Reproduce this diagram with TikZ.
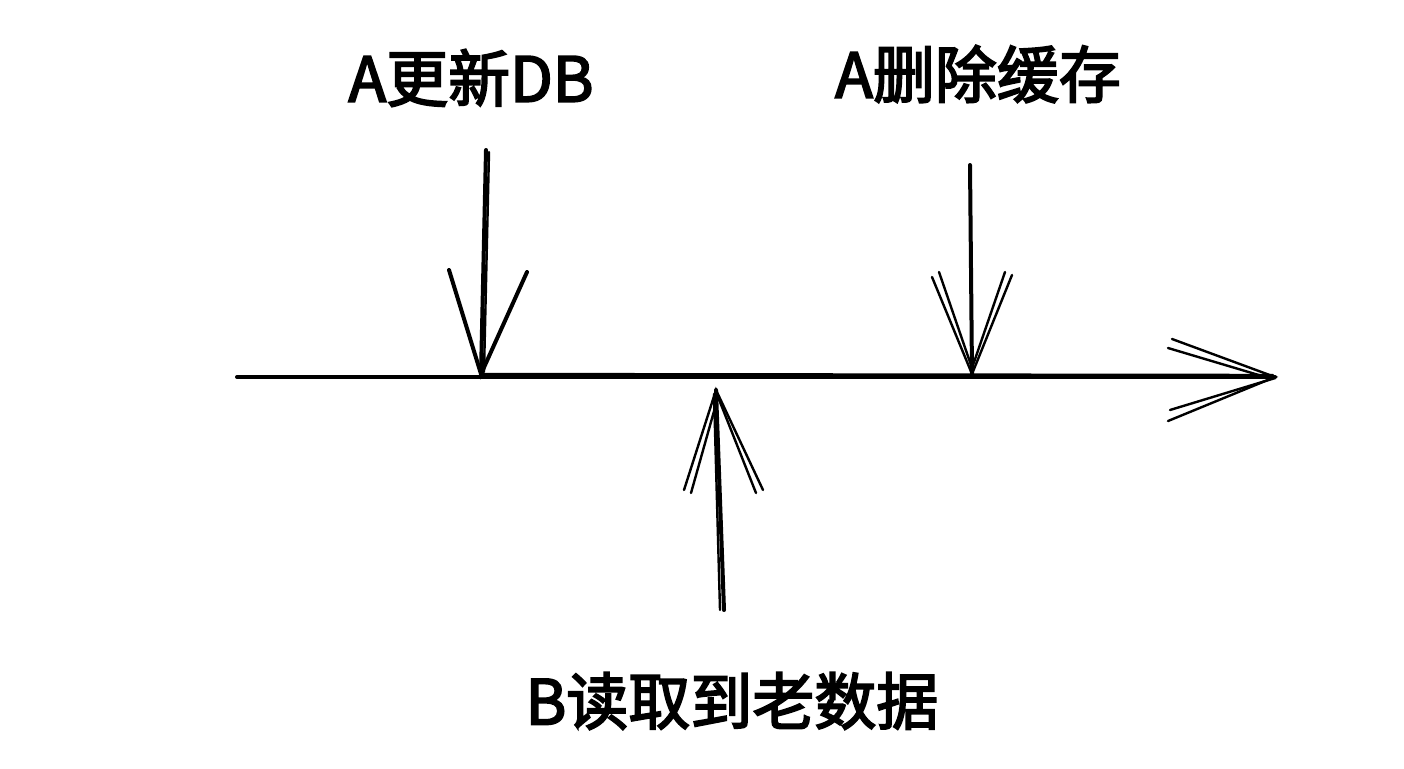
\documentclass[tikz,border=0pt]{standalone}
\usepackage{fontspec}
\newfontfamily\cjk[FakeBold=3]{Noto Sans CJK SC}
\begin{document}
\begin{tikzpicture}[x=1pt,y=-1pt,
  ink/.style={line width=4pt,line cap=round,black},
  thin ink/.style={line width=2.4pt,line cap=round,black},
  lbl/.style={font=\cjk\fontsize{62}{66}\selectfont,inner sep=0pt}]
\useasboundingbox (0,0) rectangle (1404,768);
% labels
\node[lbl] (t1) at (471,78) {A更新DB};
\node[lbl] (t2) at (978,74) {A删除缓存};
\node[lbl] (t3) at (732,701) {B读取到老数据};
% time axis
\coordinate (s) at (237,377);
\coordinate (e) at (1275,377);
\draw[ink] (s) -- (e);
\draw[thin ink] (480,374) -- (1273,375);
\draw[thin ink] (1172,339) -- (e) -- (1168,421);
\draw[thin ink] (1168,348) -- (1272,379) -- (1170,410);
% arrow 1
\coordinate (a1s) at (486,150);
\coordinate (a1e) at (481,374);
\draw[ink] (a1s) -- (a1e);
\draw[thin ink] (489,152) -- (484,372);
\draw[ink] (449,270) -- (a1e) -- (527,272);
% arrow 2
\coordinate (a2s) at (970,165);
\coordinate (a2e) at (972,374);
\draw[ink] (a2s) -- (a2e);
\draw[thin ink] (932,277) -- (a2e) -- (1012,275);
\draw[thin ink] (939,272) -- (972,368) -- (1005,272);
% arrow 3
\coordinate (a3s) at (724,610);
\coordinate (a3e) at (716,390);
\draw[ink] (a3s) -- (a3e);
\draw[thin ink] (720,610) -- (714,394);
\draw[thin ink] (684,490) -- (a3e) -- (763,490);
\draw[thin ink] (691,493) -- (718,397) -- (756,493);
\end{tikzpicture}
\end{document}
